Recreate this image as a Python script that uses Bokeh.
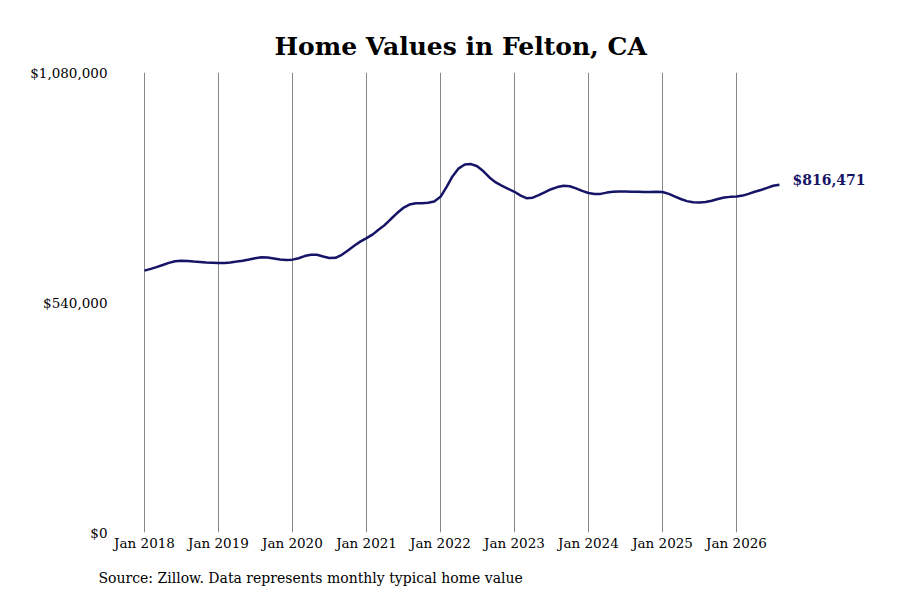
import pandas as pd
from bokeh.plotting import figure
from bokeh.models import (
    ColumnDataSource,
    Range1d,
    FixedTicker,
    NumeralTickFormatter,
    DatetimeTickFormatter,
    Label,
    Title,
)
from bokeh.embed import file_html
from bokeh.resources import INLINE

FONT = "DejaVu Serif"
NAVY = "#161466"

# monthly typical home value, Jan 2018 .. Aug 2026
months = pd.date_range("2018-01-01", periods=104, freq="MS")
values = [
    # 2018
    614900, 619000, 623000, 628000, 633000, 637000,
    638300, 637500, 636000, 635000, 634000, 633500,
    # 2019
    632900, 632500, 634000, 636000, 638000, 641000,
    644000, 646000, 645500, 643500, 641000, 640000,
    # 2020
    640600, 644000, 649000, 652300, 652000, 648000,
    644500, 645000, 652000, 662000, 673300, 683000,
    # 2021
    691000, 700000, 711000, 722000, 736000, 750000,
    762000, 770000, 773000, 773200, 774000, 777000,
    # 2022
    788000, 812000, 836000, 855000, 864000, 865000,
    860000, 848000, 833000, 822000, 814000, 807000,
    # 2023
    800000, 791000, 785000, 786000, 792000, 799000,
    806000, 811000, 814000, 813000, 808000, 802000,
    # 2024
    797000, 795000, 795000, 798000, 800000, 800500,
    800500, 800300, 800000, 799500, 799200, 800000,
    # 2025
    799500, 795000, 789000, 783000, 778000, 775500,
    775000, 776000, 779000, 783000, 786500, 788000,
    # 2026
    789000, 791000, 795000, 800000, 804000, 809000,
    814000, 816471,
]
tick_dates = pd.date_range("2018-01-01", "2026-01-01", freq="YS")
y_ticks = [0, 540000, 1080000]

source = ColumnDataSource(data=dict(date=months, value=values))

# one year is ~74px wide; leave a little room left of Jan 2018
px_day = 74 / 365.25
x_start = pd.Timestamp("2018-01-01") - pd.Timedelta(days=6 / px_day)
x_end = pd.Timestamp("2018-01-01") + pd.Timedelta(days=736 / px_day)

p = figure(
    width=890,
    height=600,
    x_axis_type="datetime",
    x_range=Range1d(x_start, x_end),
    y_range=Range1d(0, 1080000),
    output_backend="svg",
    toolbar_location=None,
    tools="",
    min_border_left=138,
    min_border_right=10,
    min_border_top=72,
    min_border_bottom=66,
)

p.line(x="date", y="value", source=source, line_color=NAVY, line_width=2.5)

end_label = Label(
    x=months[-1],
    y=values[-1],
    text=f"${values[-1]:,}",
    x_offset=13,
    y_offset=5,
    text_baseline="middle",
    text_font=FONT,
    text_font_style="bold",
    text_font_size="14px",
    text_color=NAVY,
)
p.add_layout(end_label)

# Title
p.title.text = "Home Values in Felton, CA"
p.title.align = "left"
p.title.offset = 136
p.title.text_font = FONT
p.title.text_font_size = "25px"
p.title.text_font_style = "bold"
p.title.text_color = "black"
p.title.standoff = 24

source_note = Title(
    text="Source: Zillow. Data represents monthly typical home value",
    align="left",
    offset=-40,
    text_font=FONT,
    text_font_size="14px",
    text_font_style="normal",
    text_color="black",
    standoff=29,
)
p.add_layout(source_note, "below")

# Axes
p.xaxis.ticker = FixedTicker(ticks=[d.value // 10**6 for d in tick_dates])
p.xaxis.formatter = DatetimeTickFormatter(years="%b %Y", months="%b %Y", days="%b %Y")
p.yaxis.ticker = FixedTicker(ticks=y_ticks)
p.yaxis.formatter = NumeralTickFormatter(format="$0,0")

for ax in (p.xaxis, p.yaxis):
    ax.axis_line_color = None
    ax.major_tick_line_color = None
    ax.minor_tick_line_color = None
    ax.major_tick_out = 0
    ax.major_tick_in = 0
    ax.major_label_text_font = FONT
    ax.major_label_text_font_size = "13.5px"
    ax.major_label_text_color = "black"
p.xaxis.major_label_standoff = 2
p.yaxis.major_label_standoff = 31

p.xgrid.grid_line_color = "#888888"
p.xgrid.grid_line_width = 1
p.ygrid.grid_line_color = None
p.outline_line_color = None

open("out.html", "w").write(file_html(p, INLINE))
